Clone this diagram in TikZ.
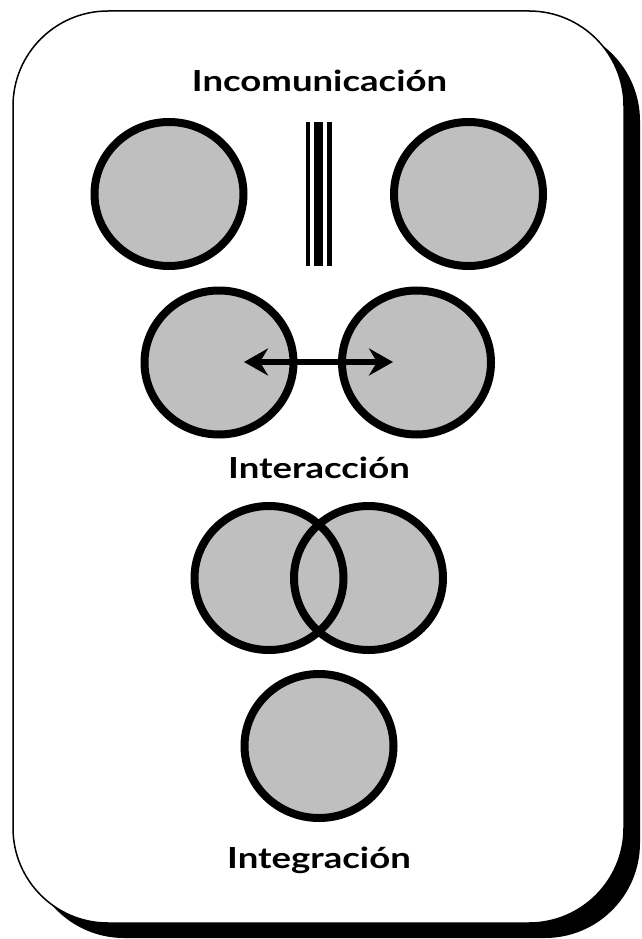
\documentclass[tikz,border=0pt]{standalone}
\usepackage{fontspec}
\setmainfont{Lato}
\usetikzlibrary{arrows.meta}
\begin{document}
\begin{tikzpicture}[x=1pt,y=-1pt,
  disc/.style={draw=black,line width=8pt,fill=black!25},
  title/.style={font=\bfseries\fontsize{29}{34}\selectfont,anchor=base,inner sep=0pt},
  bar/.style={fill=black,draw=none}]
\useasboundingbox (0,0) rectangle (642,939);
\fill[black,rounded corners=95pt] (29,26) rectangle (640,938);
\draw[fill=white,line width=1.5pt,rounded corners=95pt] (13,11) rectangle (624,923);
% Incomunicacion
\node[title] (t1) at (319.5,92) {\scalebox{1.26}[1]{Incomunicación}};
\draw[disc] (169,194) ellipse [x radius=74.5, y radius=72];
\draw[disc] (468.5,194) ellipse [x radius=74.5, y radius=72];
\fill[bar] (305.7,122) rectangle (310,266);
\fill[bar] (314.3,122) rectangle (323.3,266);
\fill[bar] (327.3,122) rectangle (332.3,266);
% Interaccion
\draw[disc] (219,362.5) ellipse [x radius=74.5, y radius=72];
\draw[disc] (416.5,362.5) ellipse [x radius=74.5, y radius=72];
\coordinate (a1) at (244,362);
\coordinate (a2) at (393,362);
\draw[line width=6pt,{Stealth[length=24pt,width=27pt,inset=8pt]}-{Stealth[length=24pt,width=27pt,inset=8pt]}] (a1) -- (a2);
\node[title] (t2) at (319,478) {\scalebox{1.26}[1]{Interacción}};
% overlap
\fill[black!25] (269,578) ellipse [x radius=74.5, y radius=72];
\fill[black!25] (368.5,578) ellipse [x radius=74.5, y radius=72];
\draw[line width=8pt] (269,578) ellipse [x radius=74.5, y radius=72];
\draw[line width=8pt] (368.5,578) ellipse [x radius=74.5, y radius=72];
% Integracion
\draw[disc] (319,746) ellipse [x radius=74.5, y radius=72];
\node[title] (t3) at (319,868) {\scalebox{1.26}[1]{Integración}};
\end{tikzpicture}
\end{document}
